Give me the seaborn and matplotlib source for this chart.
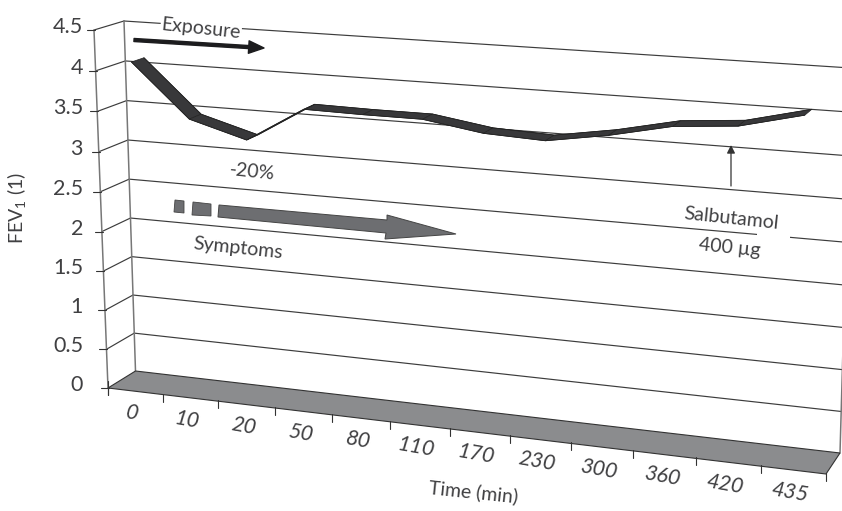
import numpy as np
import pandas as pd
import matplotlib
matplotlib.use('Agg')
import matplotlib.pyplot as plt
from matplotlib.transforms import Transform
from matplotlib.patches import Rectangle
import seaborn as sns

time_labels = ['0', '10', '20', '50', '80', '110', '170', '230', '300', '360', '420', '435']
fev_values = [4.1, 3.45, 3.25, 3.68, 3.67, 3.67, 3.56, 3.53, 3.65, 3.81, 3.87, 4.05]
y_levels = [0, 0.5, 1, 1.5, 2, 2.5, 3, 3.5, 4, 4.5]
y_labels = ['0', '0.5', '1', '1.5', '2', '2.5', '3', '3.5', '4', '4.5']

Y_MAX = 4.5
INK = '#404042'
FONT_SIZE = 14
TICK_SIZE = 15.5

# pixel corners of the 3D box: bottom left, bottom right, top right, top left
BACK_WALL = [(135.5, 371), (840, 453), (851, 68), (124, 21)]
FRONT_WALL = [(108, 388), (826, 474), (835, 81), (94, 30)]
RIBBON_NEAR, RIBBON_FAR = 0.28, 0.71


def homography(corners):
    src = [(0, 0), (1, 0), (1, 1), (0, 1)]
    A, b = [], []
    for (u, v), (x, y) in zip(src, corners):
        A.append([u, v, 1, 0, 0, 0, -u * x, -v * x])
        A.append([0, 0, 0, u, v, 1, -u * y, -v * y])
        b += [x, y]
    h = np.linalg.solve(np.array(A, float), np.array(b, float))
    return np.append(h, 1).reshape(3, 3)


H_BACK = homography(BACK_WALL)
H_FRONT = homography(FRONT_WALL)


def apply_h(H, s, v):
    w = H[2, 0] * s + H[2, 1] * v + H[2, 2]
    return (H[0, 0] * s + H[0, 1] * v + H[0, 2]) / w, (H[1, 0] * s + H[1, 1] * v + H[1, 2]) / w


def project(s, value, depth=1.0):
    # s 0..1 along the time axis, depth 0 = front plane, 1 = back wall
    s, value, depth = np.asarray(s, float), np.asarray(value, float), np.asarray(depth, float)
    fx, fy = apply_h(H_FRONT, s, value / Y_MAX)
    bx, by = apply_h(H_BACK, s, value / Y_MAX)
    return fx + (bx - fx) * depth, fy + (by - fy) * depth


def cat_s(i):
    return (np.asarray(i, float) + 0.5) / len(time_labels)


class DepthPlane(Transform):
    input_dims = 2
    output_dims = 2

    def __init__(self, plane_depth):
        super().__init__()
        self.plane_depth = plane_depth

    def transform_non_affine(self, xy):
        px, py = project(cat_s(xy[:, 0]), xy[:, 1], self.plane_depth)
        return np.column_stack([px, py])


sns.set_theme(style='white')
plt.rcParams['font.family'] = ['Lato', 'DejaVu Sans']
plt.rcParams['mathtext.default'] = 'regular'

fig, ax = plt.subplots(figsize=(8.42, 5.11), dpi=100)
fig.subplots_adjust(0, 0, 1, 1)

# back wall grid and side wall
for lev in y_levels[1:]:
    x, y = project([0, 1], [lev, lev], 1)
    ax.plot(x, y, color='#3c3c3c', lw=0.85, zorder=1)
    x, y = project([0, 0], [lev, lev], [0, 1])
    ax.plot(x, y, color='#3c3c3c', lw=0.85, zorder=1)

x, y = project([0, 0], [0, Y_MAX], 1)
ax.plot(x, y, color='#777777', lw=1.1, zorder=1)
x, y = project([0, 0], [0, Y_MAX], 0)
ax.plot(x, y, color='#777777', lw=1.1, zorder=1)
x, y = project([1, 1], [0, Y_MAX], 1)
ax.plot(x, y, color='#777777', lw=1.1, zorder=1)

# floor
fx, fy = project([0, 1, 1, 0], [0, 0, 0, 0], [0, 0, 1, 1])
ax.fill(fx, fy, facecolor='#8b8c8e', edgecolor='#333333', lw=0.8, zorder=2)

# y ticks and labels
for lev, lab in zip(y_levels, y_labels):
    x, y = project(0, lev, 0)
    ax.plot([x - 7, x + 1], [y, y], color='#333333', lw=0.8, zorder=3)
    ax.text(83, y - 3, lab, ha='right', va='center', fontsize=TICK_SIZE, color=INK)

# x ticks and labels
for k in range(len(time_labels) + 1):
    x, y = project(k / len(time_labels), 0, 0)
    ax.plot([x, x], [y - 1, y + 7], color='#333333', lw=0.8, zorder=3)
x, y = project(0, 0, 0)
ax.plot([x, x], [y - 7, y + 7], color='#333333', lw=0.8, zorder=3)
for i, lab in enumerate(time_labels):
    x, y = project(cat_s(i), 0, 0)
    ax.text(x - 3, y + 22, lab, ha='center', va='center', fontsize=TICK_SIZE, color=INK,
            style='italic', rotation=-10)

# FEV ribbon, one slab per interval
near_x, near_y = project(cat_s(np.arange(12)), fev_values, RIBBON_NEAR)
far_x, far_y = project(cat_s(np.arange(12)), fev_values, RIBBON_FAR)
for i in range(11):
    ax.fill([near_x[i], near_x[i + 1], far_x[i + 1], far_x[i]],
            [near_y[i], near_y[i + 1], far_y[i + 1], far_y[i]],
            facecolor='#38383a', edgecolor='#222222', lw=0.5, zorder=4)

df = pd.DataFrame({'pos': np.arange(12), 'fev': fev_values})
for plane in (RIBBON_NEAR, RIBBON_FAR):
    sns.lineplot(data=df, x='pos', y='fev', ax=ax, color='#222222', lw=0.6,
                 transform=DepthPlane(plane) + ax.transData, zorder=5, legend=False)

# annotations
ax.text(201, 29, 'Exposure', ha='center', va='center', fontsize=FONT_SIZE, color=INK, rotation=-6,
        zorder=6, bbox=dict(facecolor='white', edgecolor='none', pad=0.5))
ax.annotate('', xy=(264, 48), xytext=(134, 40), zorder=6,
            arrowprops=dict(width=2.2, headwidth=9, headlength=11, color='#1c1c1e', shrink=0))

ax.text(252, 172, '-20%', ha='center', va='center', fontsize=FONT_SIZE, color=INK, rotation=-6)
ax.text(238, 248, 'Symptoms', ha='center', va='center', fontsize=FONT_SIZE, color=INK, rotation=-6)

ax.fill([175, 184, 184, 174], [200, 201, 213, 212], facecolor='#6d6e71', edgecolor='#444444', lw=0.6, zorder=6)
ax.fill([193, 211, 211, 192], [202, 204, 216, 215], facecolor='#6d6e71', edgecolor='#444444', lw=0.6, zorder=6)
ax.fill([219, 387, 387, 456, 385, 386, 218], [205, 220, 215, 234, 239, 233, 217],
        facecolor='#6d6e71', edgecolor='#444444', lw=0.7, zorder=6)

ax.add_patch(Rectangle((757, 226), 33, 20, facecolor='white', edgecolor='none', zorder=2))
ax.annotate('', xy=(731, 145), xytext=(731, 186), zorder=6,
            arrowprops=dict(arrowstyle='-|>,head_width=0.2,head_length=0.4', color='#333333', lw=0.9, shrinkA=0, shrinkB=0))
ax.text(731, 219, 'Salbutamol', ha='center', va='center', fontsize=FONT_SIZE, color=INK, rotation=-6, zorder=6)
ax.text(730, 248, '400 µg', ha='center', va='center', fontsize=FONT_SIZE, color=INK, rotation=-6, zorder=6)

ax.text(473, 492, 'Time (min)', ha='center', va='center', fontsize=FONT_SIZE, color=INK, rotation=-6)
ax.text(17, 208, 'FEV$_1$ (1)', ha='center', va='center', fontsize=FONT_SIZE, color=INK, rotation=90)

ax.set_xlim(0, 842)
ax.set_ylim(511, 0)
ax.axis('off')

fig.savefig('out.png', dpi=100)
